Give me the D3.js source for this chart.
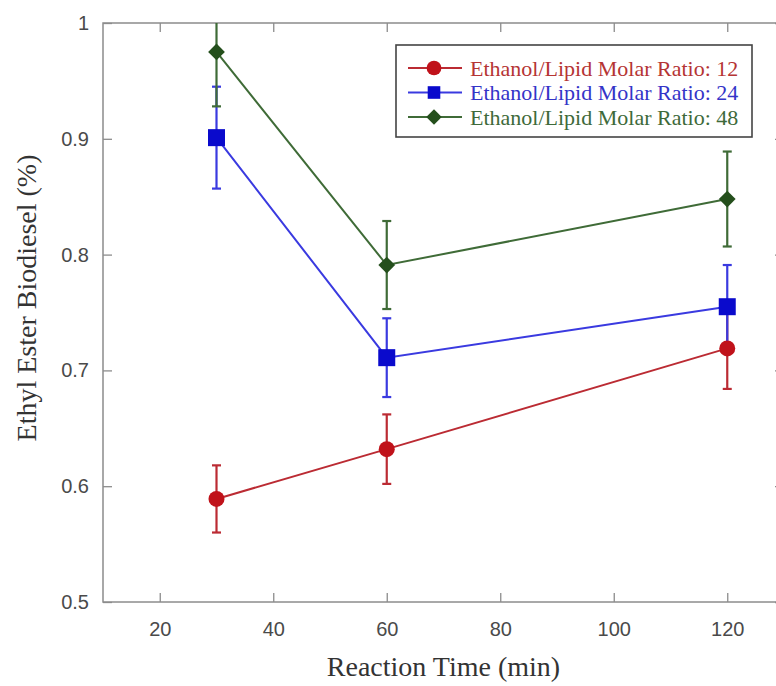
<!DOCTYPE html>
<html>
<head>
<meta charset="utf-8">
<script src="https://cdn.jsdelivr.net/npm/d3@7"></script>
<style>
  body { margin: 0; background: #fff; }
  svg { display: block; }
</style>
</head>
<body>
<div id="chart"></div>
<script>
// reaction times (min)
const times = [30, 60, 120];

// ethyl ester yield and error for each ethanol/lipid molar ratio
const ratio12 = [0.589, 0.632, 0.719];
const err12 = [0.029, 0.030, 0.035];
const ratio24 = [0.901, 0.711, 0.755];
const err24 = [0.044, 0.034, 0.036];
const ratio48 = [0.975, 0.791, 0.848];
const err48 = [0.047, 0.038, 0.041];

const seriesNames = ["Ethanol/Lipid Molar Ratio: 12", "Ethanol/Lipid Molar Ratio: 24", "Ethanol/Lipid Molar Ratio: 48"];
const xTicks = [20, 40, 60, 80, 100, 120];
const yTicks = [0.5, 0.6, 0.7, 0.8, 0.9, 1];

const width = 776;
const height = 686;
const margin = {top: 23, right: -8, bottom: 84, left: 103};
const innerW = width - margin.left - margin.right;
const innerH = height - margin.top - margin.bottom;

const lineColors = ["#bb2b33", "#3a3ae0", "#3f6b37"];
const markColors = ["#c0121a", "#0a0acc", "#244f1c"];
const textColors = ["#b53434", "#3434c8", "#3e6a3a"];
const shapes = ["circle", "square", "diamond"];

const series = [
  {values: ratio12, errors: err12},
  {values: ratio24, errors: err24},
  {values: ratio48, errors: err48}
].map((s, i) => ({
  name: seriesNames[i],
  shape: shapes[i],
  line: lineColors[i],
  mark: markColors[i],
  text: textColors[i],
  points: times.map((t, j) => ({x: t, y: s.values[j], e: s.errors[j]}))
}));

const xScale = d3.scaleLinear().domain([10, 130]).range([0, innerW]);
const yScale = d3.scaleLinear().domain([0.5, 1]).range([innerH, 0]);

const svg = d3.select("#chart")
  .append("svg")
  .attr("width", width)
  .attr("height", height)
  .style("font-family", "'Liberation Sans', Arial, sans-serif");

svg.append("defs").append("clipPath")
  .attr("id", "plot-clip")
  .append("rect")
  .attr("width", innerW)
  .attr("height", innerH);

const g = svg.append("g")
  .attr("transform", "translate(" + margin.left + "," + margin.top + ")");

// axes: ticks point inward on all four sides
const axisColor = "#8c8c8c";
function styleAxis(sel, showLabels) {
  sel.select(".domain").remove();
  sel.selectAll(".tick line").attr("stroke", axisColor).attr("stroke-width", 1.3);
  sel.selectAll(".tick text")
    .attr("fill", "#4a4a4a")
    .style("font-size", "20px")
    .style("display", showLabels ? null : "none");
}

g.append("g")
  .attr("transform", "translate(0," + innerH + ")")
  .call(d3.axisBottom(xScale).tickValues(xTicks).tickSizeInner(-9).tickPadding(20))
  .call(s => styleAxis(s, true));

g.append("g")
  .call(d3.axisTop(xScale).tickValues(xTicks).tickSizeInner(-9))
  .call(s => styleAxis(s, false));

g.append("g")
  .call(d3.axisLeft(yScale).tickValues(yTicks).tickFormat(d3.format("")).tickSizeInner(-9).tickPadding(14))
  .call(s => styleAxis(s, true));

g.append("g")
  .attr("transform", "translate(" + innerW + ",0)")
  .call(d3.axisRight(yScale).tickValues(yTicks).tickSizeInner(-9))
  .call(s => styleAxis(s, false));

g.append("rect")
  .attr("width", innerW)
  .attr("height", innerH)
  .attr("fill", "none")
  .attr("stroke", axisColor)
  .attr("stroke-width", 1.5);

// axis titles
svg.append("text")
  .attr("x", margin.left + innerW / 2)
  .attr("y", 676)
  .attr("text-anchor", "middle")
  .style("font-family", "'Liberation Serif', 'Times New Roman', serif")
  .style("font-size", "28px")
  .attr("fill", "#333")
  .text("Reaction Time (min)");

svg.append("text")
  .attr("transform", "translate(36,298) rotate(-90)")
  .attr("text-anchor", "middle")
  .style("font-family", "'Liberation Serif', 'Times New Roman', serif")
  .style("font-size", "28px")
  .attr("fill", "#333")
  .text("Ethyl Ester Biodiesel (%)");

// marker generator
function markerPath(shape, scale) {
  if (shape === "circle") return d3.symbol(d3.symbolCircle, 201 * scale)();
  if (shape === "square") return d3.symbol(d3.symbolSquare, 289 * scale)();
  return d3.symbol(d3.symbolSquare, 140 * scale)();
}
function markerRotate(shape) {
  return shape === "diamond" ? " rotate(45)" : "";
}

const line = d3.line()
  .x(d => xScale(d.x))
  .y(d => yScale(d.y));

const plot = g.append("g").attr("clip-path", "url(#plot-clip)");

// error bars and lines
series.forEach(s => {
  const eb = plot.append("g");
  eb.selectAll("line.bar")
    .data(s.points)
    .enter().append("line")
      .attr("x1", d => xScale(d.x))
      .attr("x2", d => xScale(d.x))
      .attr("y1", d => yScale(d.y + d.e))
      .attr("y2", d => yScale(d.y - d.e))
      .attr("stroke", s.line)
      .attr("stroke-width", 2.2);
  [1, -1].forEach(sign => {
    eb.selectAll("line.cap" + sign)
      .data(s.points)
      .enter().append("line")
        .attr("x1", d => xScale(d.x) - 4.5)
        .attr("x2", d => xScale(d.x) + 4.5)
        .attr("y1", d => yScale(d.y + sign * d.e))
        .attr("y2", d => yScale(d.y + sign * d.e))
        .attr("stroke", s.line)
        .attr("stroke-width", 2.2);
  });

  plot.append("path")
    .datum(s.points)
    .attr("d", line)
    .attr("fill", "none")
    .attr("stroke", s.line)
    .attr("stroke-width", 2);
});

// markers on top
series.forEach(s => {
  plot.selectAll(null)
    .data(s.points)
    .enter().append("path")
      .attr("d", markerPath(s.shape, 1))
      .attr("transform", d => "translate(" + xScale(d.x) + "," + yScale(d.y) + ")" + markerRotate(s.shape))
      .attr("fill", s.mark);
});

// legend
const legend = svg.append("g").attr("transform", "translate(396,45)");
legend.append("rect")
  .attr("width", 356)
  .attr("height", 92)
  .attr("fill", "#fff")
  .attr("stroke", "#444")
  .attr("stroke-width", 1.6);

const rows = legend.selectAll("g.row")
  .data(series)
  .enter().append("g")
    .attr("transform", (d, i) => "translate(0," + (23 + i * 24.5) + ")");

rows.append("line")
  .attr("x1", 12)
  .attr("x2", 66)
  .attr("stroke", d => d.line)
  .attr("stroke-width", 2);

rows.append("path")
  .attr("d", d => markerPath(d.shape, d.shape === "square" ? 0.55 : 0.85))
  .attr("transform", d => "translate(38,0)" + markerRotate(d.shape))
  .attr("fill", d => d.mark);

rows.append("text")
  .attr("x", 74)
  .attr("dy", "0.35em")
  .style("font-family", "'Liberation Serif', 'Times New Roman', serif")
  .style("font-size", "22px")
  .attr("fill", d => d.text)
  .text(d => d.name);
</script>
</body>
</html>
